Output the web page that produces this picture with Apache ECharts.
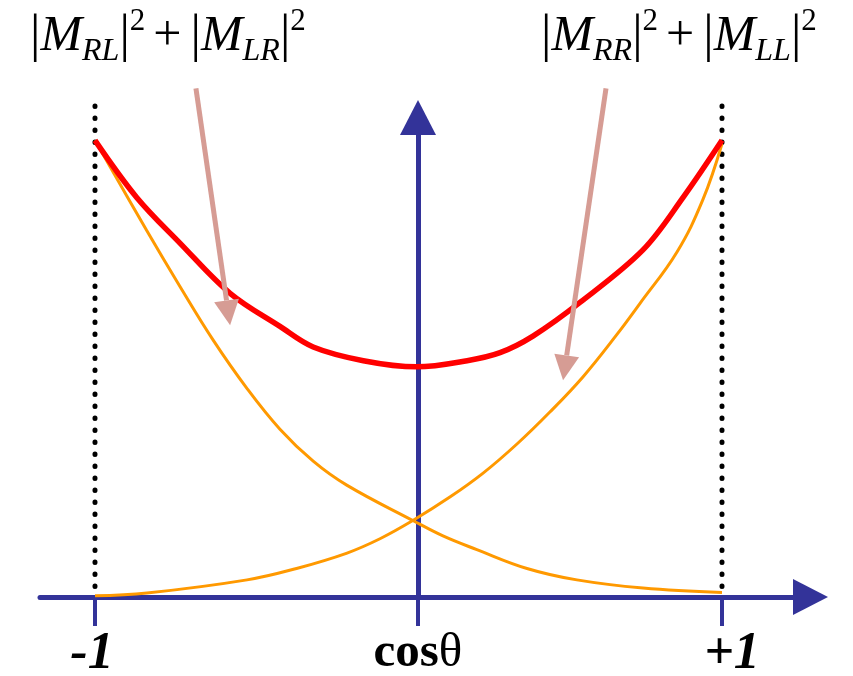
<!DOCTYPE html>
<html>
<head>
<meta charset="utf-8">
<script src="https://cdn.jsdelivr.net/npm/echarts/dist/echarts.min.js"></script>
<style>
html,body{margin:0;padding:0;background:#fff;}
#chart{width:853px;height:676px;}
</style>
</head>
<body>
<div id="chart"></div>
<script>
// ---- data (x = cosθ, y = arbitrary units) ----
var redX = [-1, -0.867, -0.729, -0.569, -0.410, -0.304, -0.144, 0.026, 0.187, 0.292, 0.397, 0.547, 0.748, 0.876, 1];
var redY = [4.0, 3.50, 3.10, 2.66, 2.37, 2.19, 2.07, 2.016, 2.07, 2.14, 2.285, 2.58, 3.04, 3.50, 4.0];

var downX = [-1, -0.835, -0.729, -0.623, -0.516, -0.410, -0.304, -0.197, 0.014, 0.110, 0.218, 0.378, 0.537, 0.748, 1];
var downY = [4.0, 3.21, 2.72, 2.25, 1.83, 1.47, 1.19, 0.98, 0.67, 0.535, 0.415, 0.25, 0.15, 0.079, 0.04];

var upX = [-1, -0.834, -0.515, -0.357, -0.196, -0.091, 0.014, 0.132, 0.238, 0.346, 0.451, 0.557, 0.665, 0.738, 0.856, 0.939, 1];
var upY = [0.01, 0.035, 0.15, 0.25, 0.385, 0.51, 0.67, 0.875, 1.085, 1.34, 1.62, 1.93, 2.30, 2.57, 3.02, 3.48, 3.97];

var tickValues = [-1, 0.03, 1];
var tickLabels = ['-1', 'cosθ', '+1'];
var boundaryX = [-1, 1];

// annotation arrows: [fromX, fromY, toX, toY] in data units
var arrowLeft = [-0.678, 4.455, -0.569, 2.381];
var arrowRight = [0.630, 4.455, 0.493, 1.899];

function zip(a, b) { return a.map(function (v, i) { return [v, b[i]]; }); }

var AXIS = '#333399';
var chart = echarts.init(document.getElementById('chart'));

var series = [];
boundaryX.forEach(function (bx) {
  series.push({
    type: 'line', data: [[bx, 4.3], [bx, 0.04]], symbol: 'none', silent: true, clip: false,
    lineStyle: { color: '#000', width: 5, type: [0.5, 11.5], cap: 'round' }, z: 1
  });
});
series.push({
  type: 'line', data: zip(downX, downY), symbol: 'none', smooth: 0.4,
  lineStyle: { color: '#ff9900', width: 3 }, z: 3
});
series.push({
  type: 'line', data: zip(upX, upY), symbol: 'none', smooth: 0.4,
  lineStyle: { color: '#ff9900', width: 3 }, z: 3
});
series.push({
  type: 'line', data: zip(redX, redY), symbol: 'none', smooth: 0.35,
  lineStyle: { color: '#ff0000', width: 5.5 }, z: 4
});

var headerRich = {
  b: { fontFamily: 'Liberation Serif', fontSize: 52, lineHeight: 62, color: '#000' },
  m: { fontFamily: 'Liberation Serif', fontStyle: 'italic', fontSize: 50, lineHeight: 62, color: '#000' },
  s: { fontFamily: 'Liberation Serif', fontStyle: 'italic', fontSize: 32, lineHeight: 42, verticalAlign: 'bottom', color: '#000' },
  p: { fontFamily: 'Liberation Serif', fontSize: 31, lineHeight: 40, verticalAlign: 'top', color: '#000' },
  o: { fontFamily: 'Liberation Serif', fontSize: 50, lineHeight: 62, color: '#000', padding: [0, 9, 0, 8] }
};

chart.setOption({
  animation: false,
  backgroundColor: '#fff',
  grid: { left: 40, right: 42.5, top: 117.5, bottom: 79, containLabel: false, outerBoundsMode: 'none' },
  xAxis: {
    type: 'value', min: -1.1754, max: 1.2823,
    splitLine: { show: false },
    axisLine: { onZero: true, lineStyle: { color: AXIS, width: 5 }, symbol: ['none', 'triangle'], symbolSize: [36, 35] },
    axisTick: { show: true, customValues: tickValues, length: 29, lineStyle: { color: AXIS, width: 4 } },
    axisLabel: {
      customValues: tickValues, margin: 32,
      formatter: function (v) {
        if (Math.abs(v + 1) < 1e-6) return '{n|' + tickLabels[0] + '}';
        if (Math.abs(v - 1) < 1e-6) return '{r|' + tickLabels[2] + '}';
        return '{c|cos}{t|θ}';
      },
      rich: {
        n: { fontFamily: 'Liberation Serif', fontWeight: 'bold', fontStyle: 'italic', fontSize: 52, color: '#000', padding: [0, 6, 0, 0] },
        r: { fontFamily: 'Liberation Serif', fontWeight: 'bold', fontStyle: 'italic', fontSize: 52, color: '#000', padding: [0, 0, 0, 20] },
        c: { fontFamily: 'Liberation Serif', fontWeight: 'bold', fontSize: 49, color: '#000' },
        t: { fontFamily: 'Liberation Serif', fontSize: 49, color: '#000' }
      }
    }
  },
  yAxis: {
    type: 'value', min: 0, max: 4.2, position: 'left', offset: -378,
    splitLine: { show: false },
    axisLine: { show: true, onZero: false, lineStyle: { color: AXIS, width: 5 }, symbol: ['none', 'triangle'], symbolSize: [36, 35] },
    axisTick: { show: false },
    axisLabel: { show: false }
  },
  series: series
});

function arrowGraphic(a) {
  var p0 = chart.convertToPixel({ gridIndex: 0 }, [a[0], a[1]]);
  var p1 = chart.convertToPixel({ gridIndex: 0 }, [a[2], a[3]]);
  var dx = p1[0] - p0[0], dy = p1[1] - p0[1];
  var len = Math.sqrt(dx * dx + dy * dy);
  var ux = dx / len, uy = dy / len;
  var hl = 25, hw = 12.5;
  var bx = p1[0] - ux * hl, by = p1[1] - uy * hl;
  var col = '#d69c94';
  return [
    { type: 'line', shape: { x1: p0[0], y1: p0[1], x2: bx, y2: by }, style: { stroke: col, lineWidth: 5 }, z: 10 },
    { type: 'polygon', shape: { points: [[p1[0], p1[1]], [bx - uy * hw, by + ux * hw], [bx + uy * hw, by - ux * hw]] }, style: { fill: col }, z: 10 }
  ];
}

var graphics = [].concat(arrowGraphic(arrowLeft), arrowGraphic(arrowRight));
graphics.push({
  type: 'text', left: 30, top: 6, z: 20,
  style: { text: '{b||}{m|M}{s|RL}{b||}{p|2}{o|+}{b||}{m|M}{s|LR}{b||}{p|2}', rich: headerRich }
});
graphics.push({
  type: 'text', left: 541, top: 6, z: 20,
  style: { text: '{b||}{m|M}{s|RR}{b||}{p|2}{o|+}{b||}{m|M}{s|LL}{b||}{p|2}', rich: headerRich }
});
chart.setOption({ graphic: graphics });
</script>
</body>
</html>
